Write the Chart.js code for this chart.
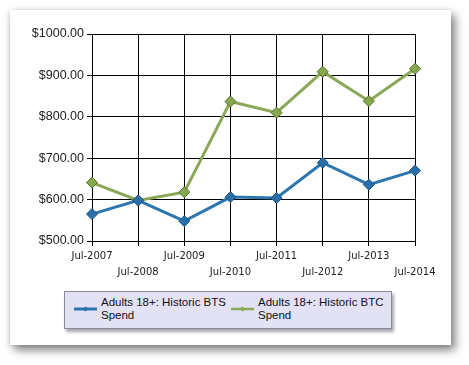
<!DOCTYPE html>
<html>
<head>
<meta charset="utf-8">
<script src="https://cdn.jsdelivr.net/npm/chart.js@4"></script>
<style>
    html, body { margin: 0; padding: 0; background: #ffffff; }
    body { width: 469px; height: 365px; position: relative; overflow: hidden; font-family: "Liberation Sans", Arial, sans-serif; }
    .card {
        position: absolute; left: 10px; top: 10px; width: 441px; height: 335px;
        background: #ffffff;
        box-shadow: 4px 5px 9px rgba(0, 0, 0, 0.5), -1px 0 4px rgba(0, 0, 0, 0.12);
    }
    #chartWrap { position: absolute; left: 0; top: 0; width: 441px; height: 270px; }
    .legend {
        position: absolute; left: 54px; top: 281px; width: 326px; height: 36px;
        background: #e2e2f4; border: 1px solid #8a8a9a;
        box-shadow: 2px 3px 3px rgba(0, 0, 0, 0.35);
    }
    .item { position: absolute; top: 4px; font-size: 11.5px; line-height: 13px; color: #111; }
    .item .icon { position: absolute; left: 0; top: 10px; width: 23px; height: 6px; }
    .item .text { position: absolute; left: 27px; top: 0; white-space: nowrap; }
</style>
</head>
<body>
<div class="card">
    <div id="chartWrap"><canvas id="spendChart" width="441" height="270"></canvas></div>
    <div class="legend" id="legend"></div>
</div>
<script>
// Historic spend per year

const years = ['Jul-2007', 'Jul-2008', 'Jul-2009', 'Jul-2010', 'Jul-2011', 'Jul-2012', 'Jul-2013', 'Jul-2014'];
const btsSpend = [565, 598, 548, 606, 604, 689, 636, 670];
const btcSpend = [641, 598, 618, 837, 810, 909, 838, 916];
const seriesNames = ['Adults 18+: Historic BTS\nSpend', 'Adults 18+: Historic BTC\nSpend'];
const yTicks = [500, 600, 700, 800, 900, 1000];

const blue = '#2c76b0';
const green = '#8aa858';

const ctx = document.getElementById('spendChart');

const spendChart = new Chart(ctx, {
    type: 'line',
    data: {
        labels: years,
        datasets: [{
            label: seriesNames[0],
            data: btsSpend,
            borderColor: blue,
            backgroundColor: '#2a6fa8',
            pointBorderColor: '#1d5584',
            borderWidth: 3,
            pointStyle: 'rectRot',
            pointRadius: 5.5,
            pointBorderWidth: 1,
            tension: 0
        }, {
            label: seriesNames[1],
            data: btcSpend,
            borderColor: green,
            backgroundColor: '#86a84e',
            pointBorderColor: '#55702c',
            borderWidth: 3,
            pointStyle: 'rectRot',
            pointRadius: 5.5,
            pointBorderWidth: 1,
            tension: 0
        }]
    },
    options: {
        responsive: false,
        animation: false,
        layout: {
            padding: { top: 24, right: 36, left: 0, bottom: 0 }
        },
        plugins: {
            legend: { display: false },
            tooltip: { enabled: false }
        },
        scales: {
            y: {
                min: 500,
                max: 1000,
                afterBuildTicks: function(scale) {
                    scale.ticks = yTicks.map(v => ({ value: v }));
                },
                afterFit: function(scale) {
                    scale.width = 82;
                },
                ticks: {
                    color: '#222',
                    padding: 3,
                    font: { family: 'Liberation Sans', size: 12.5 },
                    callback: function(value) {
                        return '$' + value.toFixed(2);
                    }
                },
                grid: { color: '#000', lineWidth: 1, tickLength: 5 },
                border: { color: '#000', width: 1 }
            },
            x: {
                offset: false,
                afterFit: function(scale) {
                    scale.height = 39;
                },
                ticks: {
                    color: '#222',
                    padding: 2,
                    maxRotation: 0,
                    autoSkip: false,
                    font: { family: 'DejaVu Sans', size: 10, lineHeight: 1.6 },
                    callback: function(value, index) {
                        const label = years[index];
                        return index % 2 === 1 ? ['', label] : label;
                    }
                },
                grid: { color: '#000', lineWidth: 1, tickLength: 5 },
                border: { color: '#000', width: 1 }
            }
        }
    }
});

// Build the legend box from the chart's datasets
function renderLegend(chart) {
    const box = document.getElementById('legend');
    const offsets = [9, 166];
    chart.data.datasets.forEach((ds, i) => {
        const item = document.createElement('div');
        item.className = 'item';
        item.style.left = offsets[i] + 'px';

        const icon = document.createElement('canvas');
        icon.className = 'icon';
        icon.width = 23;
        icon.height = 6;
        const c = icon.getContext('2d');
        c.strokeStyle = ds.borderColor;
        c.lineWidth = i === 0 ? 3 : 2.5;
        c.beginPath();
        c.moveTo(0, 3);
        c.lineTo(23, 3);
        c.stroke();
        c.fillStyle = ds.backgroundColor;
        c.beginPath();
        c.moveTo(11.5, 0.5);
        c.lineTo(14, 3);
        c.lineTo(11.5, 5.5);
        c.lineTo(9, 3);
        c.closePath();
        c.fill();

        const text = document.createElement('div');
        text.className = 'text';
        text.innerText = ds.label;

        item.appendChild(icon);
        item.appendChild(text);
        box.appendChild(item);
    });
}

renderLegend(spendChart);
</script>
</body>
</html>
